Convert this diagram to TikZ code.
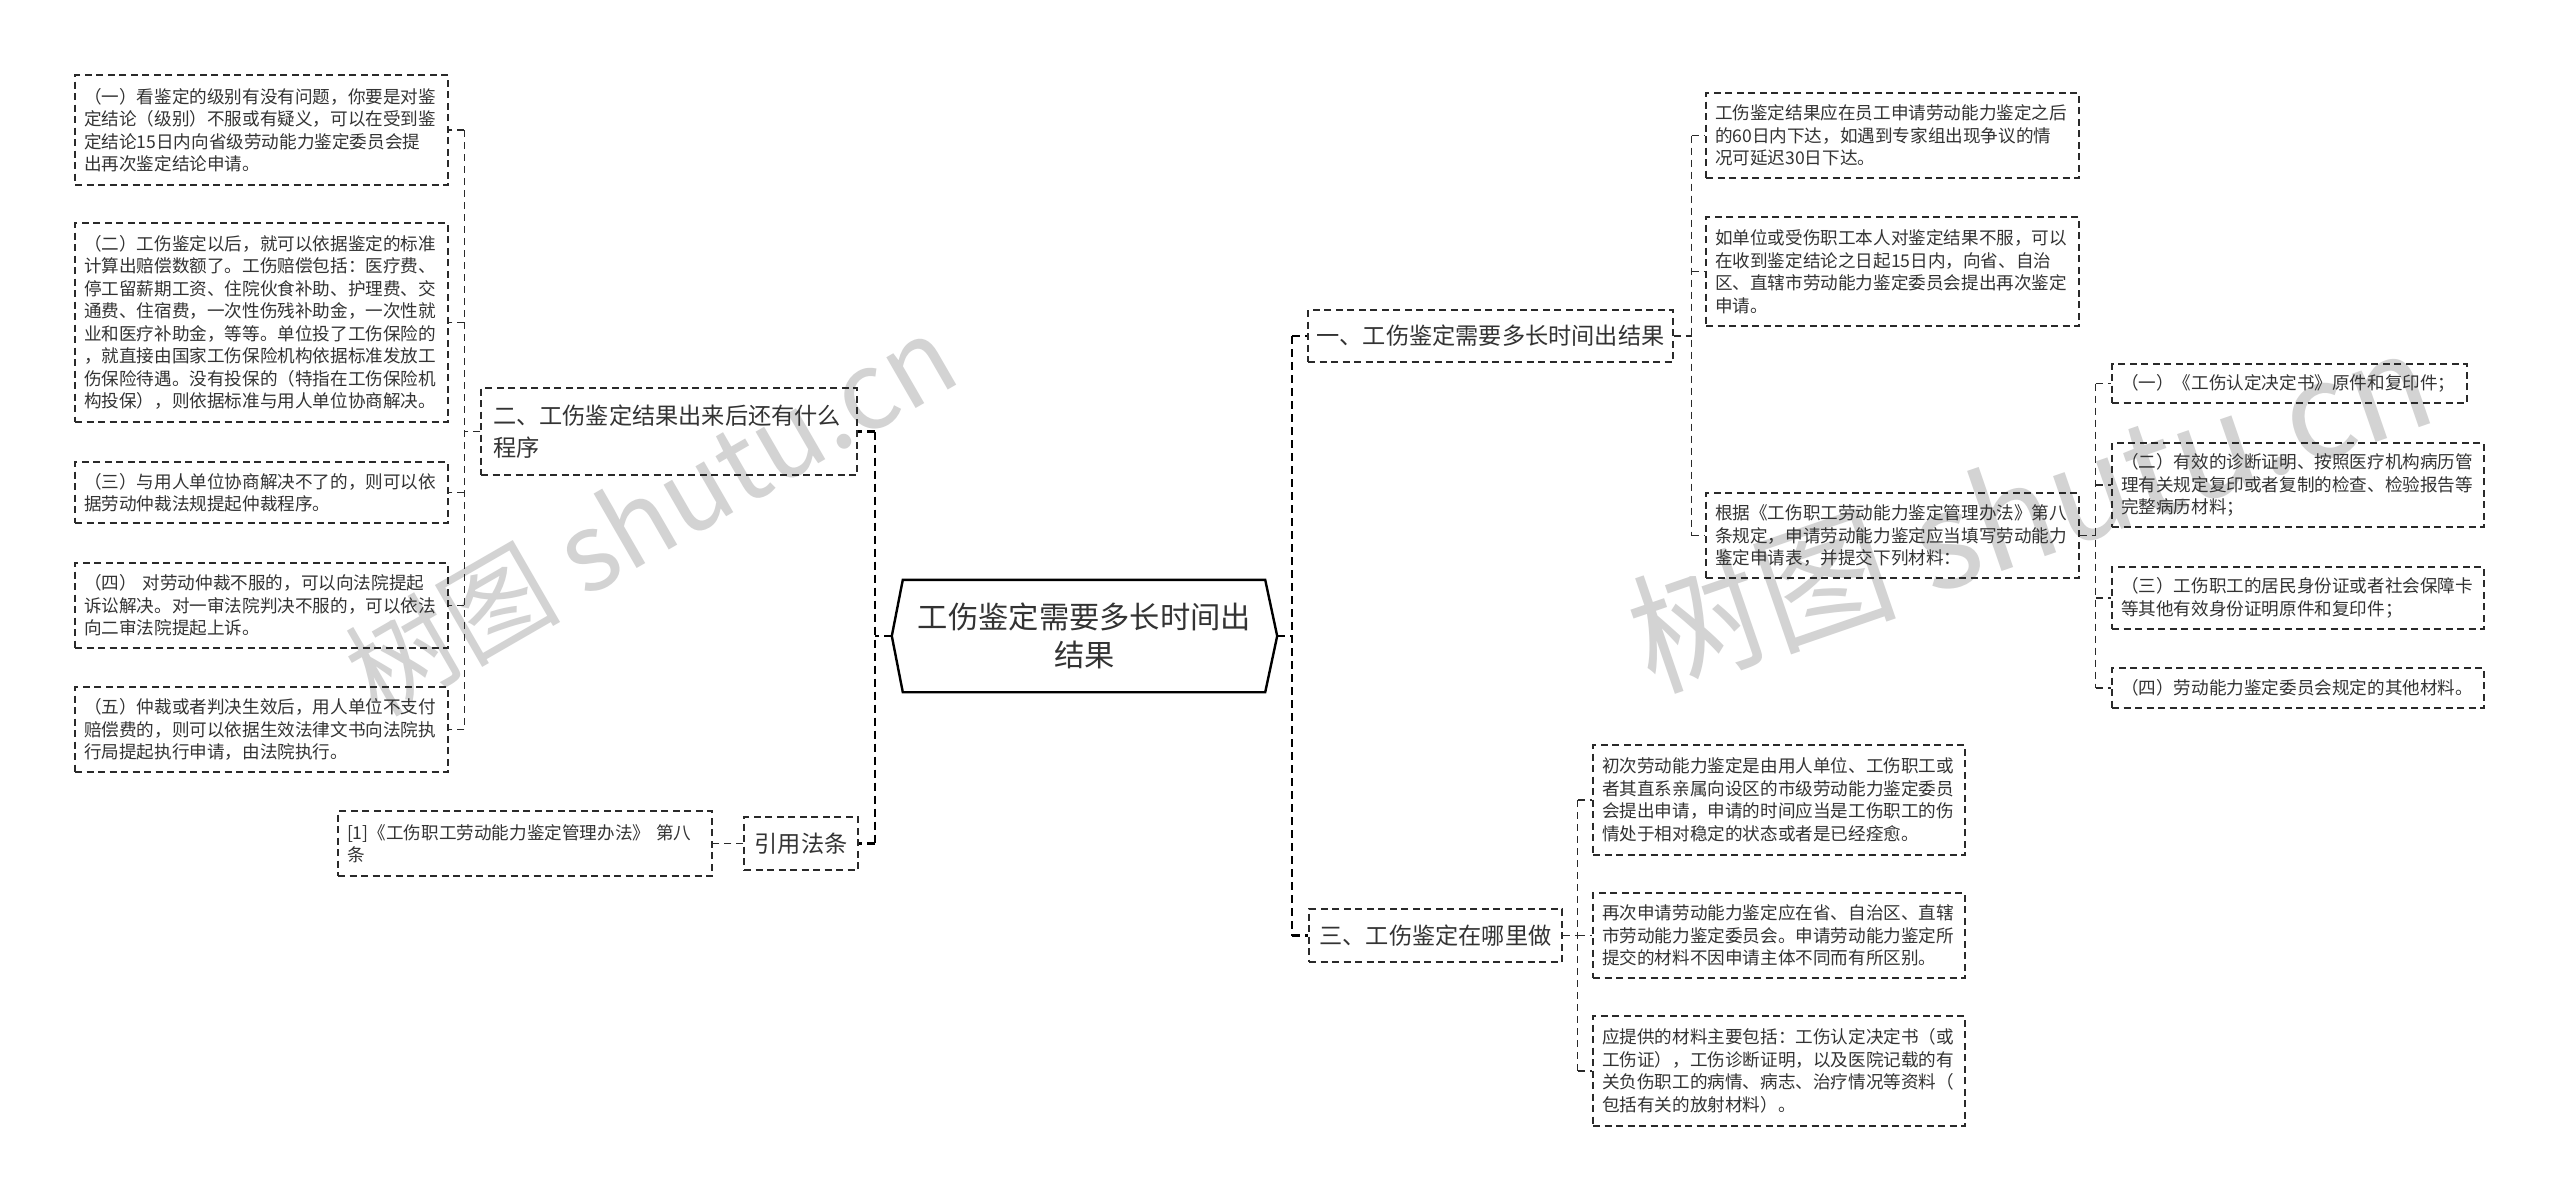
\documentclass[tikz,border=0pt]{standalone}
\usepackage{fontspec}
\setmainfont{Noto Sans CJK SC}
\definecolor{txt}{HTML}{333333}
\definecolor{bd}{HTML}{2a2a2a}
\definecolor{wmc}{HTML}{c8c8c8}
\begin{document}
\begin{tikzpicture}[x=1pt,y=-1pt,
  leaf/.style={draw=bd, line width=1.5pt, dash pattern=on 7pt off 4.5pt, text=txt,
    inner xsep=9pt, inner ysep=0pt, align=left, anchor=center,
    font=\fontsize{17.6}{22.5}\selectfont},
  mainbox/.style={draw=bd, line width=1.5pt, dash pattern=on 7pt off 4.5pt, text=txt,
    inner xsep=7pt, inner ysep=0pt, align=center, anchor=center,
    font=\fontsize{23.2}{32}\selectfont},
  conA/.style={draw=black, line width=2.4pt, dash pattern=on 8pt off 5pt},
  conB/.style={draw=bd, line width=1.4pt, dash pattern=on 7pt off 5pt},
  wm/.style={text=wmc, opacity=0.8, anchor=center}
]
\fill[white] (0,0) rectangle (2560,1202);
\useasboundingbox (0,0) rectangle (2560,1202);

% watermarks
\node[wm, rotate=30, font=\fontsize{108}{108}\selectfont] (wmL) at (650,514) {树图 shutu.cn};
\node[wm, rotate=19, font=\fontsize{133}{133}\selectfont] (wmR) at (2030,508) {树图 shutu.cn};

% root
\node[text=txt, font=\fontsize{30.3}{38}\selectfont, align=center, inner sep=0pt,
      minimum width=385pt, minimum height=112pt] (root) at (1084.5,636)
      {工伤鉴定需要多长时间出\\结果};
\draw[black, line width=2.4pt, line join=miter]
  (root.west) -- ([xshift=11pt]root.north west) -- ([xshift=-12pt]root.north east)
  -- (root.east) -- ([xshift=-12pt]root.south east) -- ([xshift=11pt]root.south west) -- cycle;

% left main nodes
\node[mainbox, align=left, inner xsep=12pt, text width=352pt, minimum height=87pt] (n2) at (669,431.5)
  {二、工伤鉴定结果出来后还有什么\\程序};
\node[mainbox, text width=100pt, minimum height=53pt] (cite) at (801,843.5) {引用法条};

% left leaves
\node[leaf, text width=355pt, minimum height=110pt] (l1) at (261.5,130)
  {（一）看鉴定的级别有没有问题，你要是对鉴\\定结论（级别）不服或有疑义，可以在受到鉴\\定结论15日内向省级劳动能力鉴定委员会提\\出再次鉴定结论申请。};
\node[leaf, text width=355pt, minimum height=199pt] (l2) at (261.5,322.5)
  {（二）工伤鉴定以后，就可以依据鉴定的标准\\计算出赔偿数额了。工伤赔偿包括：医疗费、\\停工留薪期工资、住院伙食补助、护理费、交\\通费、住宿费，一次性伤残补助金，一次性就\\业和医疗补助金，等等。单位投了工伤保险的\\，就直接由国家工伤保险机构依据标准发放工\\伤保险待遇。没有投保的（特指在工伤保险机\\构投保），则依据标准与用人单位协商解决。};
\node[leaf, text width=355pt, minimum height=61pt] (l3) at (261.5,492.5)
  {（三）与用人单位协商解决不了的，则可以依\\据劳动仲裁法规提起仲裁程序。};
\node[leaf, text width=355pt, minimum height=85pt] (l4) at (261.5,605.5)
  {（四） 对劳动仲裁不服的，可以向法院提起\\诉讼解决。对一审法院判决不服的，可以依法\\向二审法院提起上诉。};
\node[leaf, text width=355pt, minimum height=85pt] (l5) at (261.5,729.5)
  {（五）仲裁或者判决生效后，用人单位不支付\\赔偿费的，则可以依据生效法律文书向法院执\\行局提起执行申请，由法院执行。};
\node[leaf, text width=356pt, minimum height=65pt] (ref1) at (525,843.5)
  {[1]《工伤职工劳动能力鉴定管理办法》 第八\\条};

% right main nodes
\node[mainbox, text width=351pt, minimum height=52pt] (n1) at (1490.5,336) {一、工伤鉴定需要多长时间出结果};
\node[mainbox, text width=239pt, minimum height=53pt] (n3) at (1435.5,935.5) {三、工伤鉴定在哪里做};

% right leaves (section one)
\node[leaf, text width=355pt, minimum height=85pt] (c1) at (1892.5,135.5)
  {工伤鉴定结果应在员工申请劳动能力鉴定之后\\的60日内下达，如遇到专家组出现争议的情\\况可延迟30日下达。};
\node[leaf, text width=355pt, minimum height=109pt] (c2) at (1892.5,271.5)
  {如单位或受伤职工本人对鉴定结果不服，可以\\在收到鉴定结论之日起15日内，向省、自治\\区、直辖市劳动能力鉴定委员会提出再次鉴定\\申请。};
\node[leaf, text width=355pt, minimum height=85pt] (c3) at (1892.5,535.5)
  {根据《工伤职工劳动能力鉴定管理办法》第八\\条规定，申请劳动能力鉴定应当填写劳动能力\\鉴定申请表，并提交下列材料：};

\node[leaf, text width=337pt, minimum height=39pt] (d1) at (2289.5,383.5)
  {（一）《工伤认定决定书》原件和复印件；};
\node[leaf, text width=354pt, minimum height=84pt] (d2) at (2298,485)
  {（二）有效的诊断证明、按照医疗机构病历管\\理有关规定复印或者复制的检查、检验报告等\\完整病历材料；};
\node[leaf, text width=354pt, minimum height=62pt] (d3) at (2298,598)
  {（三）工伤职工的居民身份证或者社会保障卡\\等其他有效身份证明原件和复印件；};
\node[leaf, text width=354pt, minimum height=40pt] (d4) at (2298,688)
  {（四）劳动能力鉴定委员会规定的其他材料。};

% right leaves (section three)
\node[leaf, text width=354pt, minimum height=110pt] (e1) at (1779,800)
  {初次劳动能力鉴定是由用人单位、工伤职工或\\者其直系亲属向设区的市级劳动能力鉴定委员\\会提出申请，申请的时间应当是工伤职工的伤\\情处于相对稳定的状态或者是已经痊愈。};
\node[leaf, text width=354pt, minimum height=85pt] (e2) at (1779,935.5)
  {再次申请劳动能力鉴定应在省、自治区、直辖\\市劳动能力鉴定委员会。申请劳动能力鉴定所\\提交的材料不因申请主体不同而有所区别。};
\node[leaf, text width=354pt, minimum height=110pt] (e3) at (1779,1071)
  {应提供的材料主要包括：工伤认定决定书（或\\工伤证），工伤诊断证明，以及医院记载的有\\关负伤职工的病情、病志、治疗情况等资料（\\包括有关的放射材料）。};

% ---- connectors, level 1
\draw[conA] (root.west) -- ++(-17,0) coordinate (vL);
\draw[conA] (vL |- n2.east) -- (vL |- cite.east);
\draw[conA] (vL |- n2.east) -- (n2.east);
\draw[conA] (vL |- cite.east) -- (cite.east);
\draw[conA] (root.east) -- ++(15,0) coordinate (vR);
\draw[conA] (vR |- n1.west) -- (vR |- n3.west);
\draw[conA] (vR |- n1.west) -- (n1.west);
\draw[conA] (vR |- n3.west) -- (n3.west);

% ---- level 2: section two
\draw[conB] (n2.west) -- ++(-16,0) coordinate (v2);
\draw[conB] (v2 |- l1.east) -- (v2 |- l5.east);
\foreach \k in {l1,l2,l3,l4,l5} \draw[conB] (v2 |- \k.east) -- (\k.east);
\draw[conB] (cite.west) -- (ref1.east);

% ---- section one
\draw[conB] (n1.east) -- ++(18,0) coordinate (v1);
\draw[conB] (v1 |- c1.west) -- (v1 |- c3.west);
\foreach \k in {c1,c2,c3} \draw[conB] (v1 |- \k.west) -- (\k.west);
\draw[conB] (c3.east) -- ++(16,0) coordinate (vd);
\draw[conB] (vd |- d1.west) -- (vd |- d4.west);
\foreach \k in {d1,d2,d3,d4} \draw[conB] (vd |- \k.west) -- (\k.west);

% ---- section three
\draw[conB] (n3.east) -- ++(15,0) coordinate (v3);
\draw[conB] (v3 |- e1.west) -- (v3 |- e3.west);
\foreach \k in {e1,e2,e3} \draw[conB] (v3 |- \k.west) -- (\k.west);
\end{tikzpicture}
\end{document}
